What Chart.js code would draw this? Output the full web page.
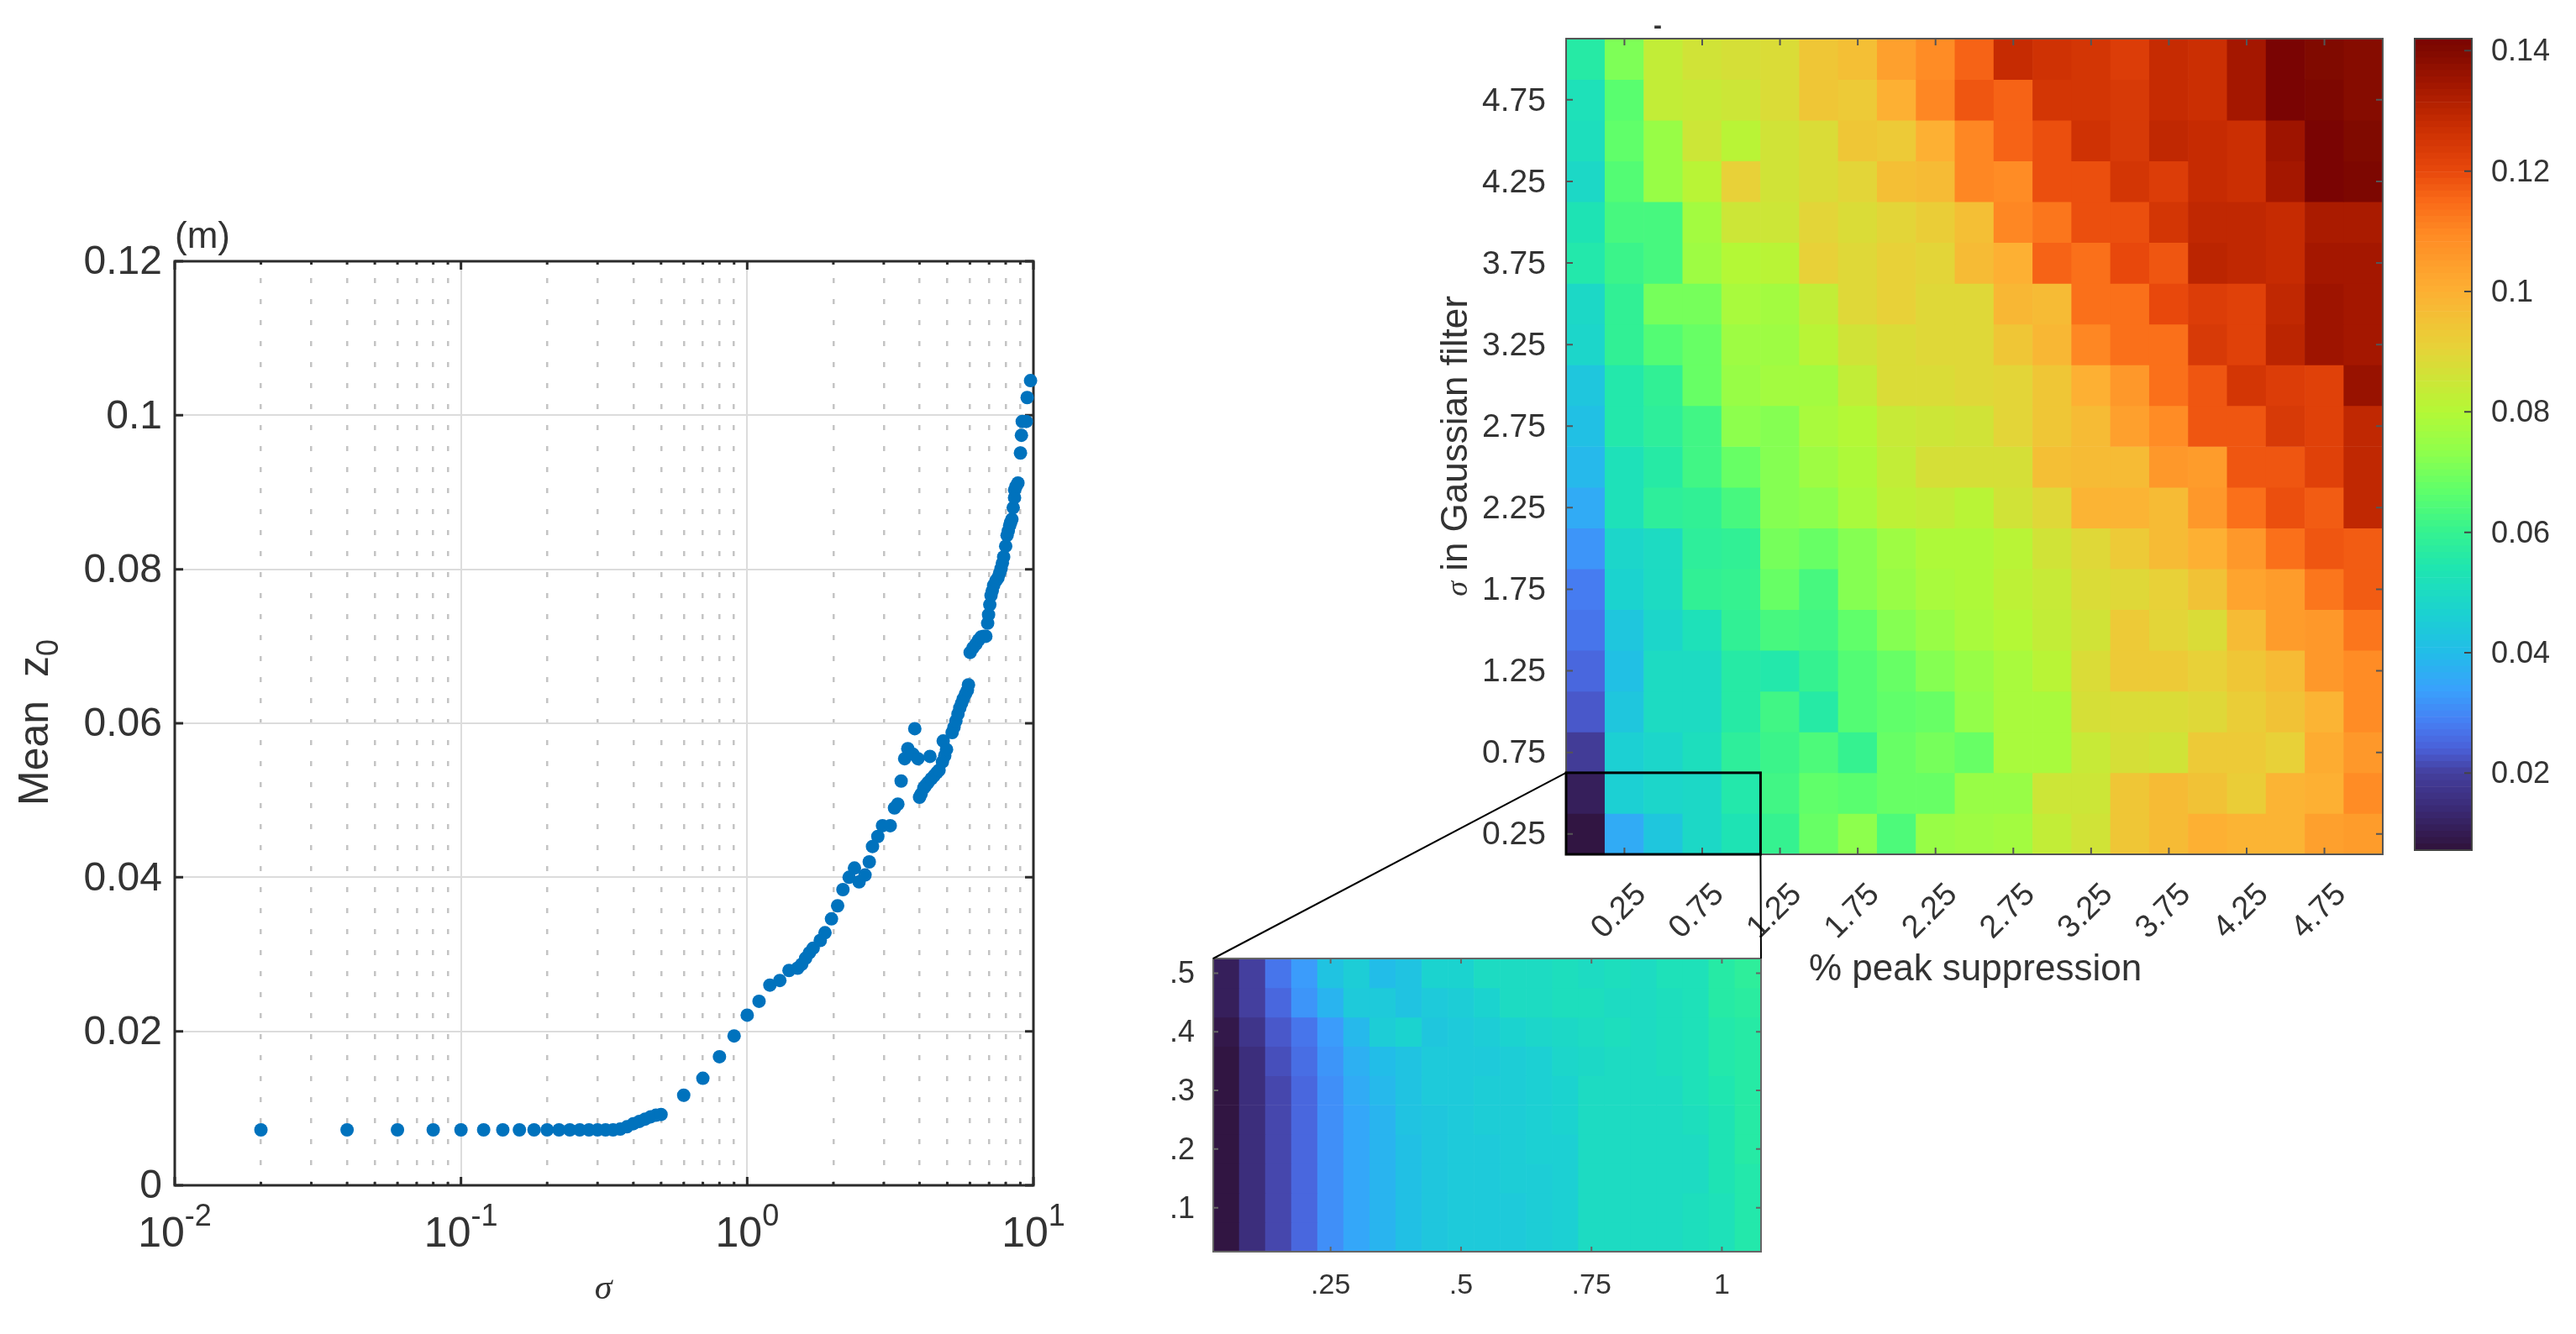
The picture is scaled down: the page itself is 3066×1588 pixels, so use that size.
<!DOCTYPE html>
<html>
<head>
<meta charset="utf-8">
<script src="https://cdn.jsdelivr.net/npm/chart.js@4"></script>
<style>
  html, body { margin: 0; background: #fff; }
  canvas { position: absolute; }
</style>
</head>
<body>
<canvas id="chart-scatter"></canvas>
<canvas id="chart-heat"></canvas>
<canvas id="chart-bar"></canvas>
<canvas id="chart-inset"></canvas>
<script>
// left panel
const sigmaValues = [0.02,0.04,0.06,0.08,0.1,0.12,0.14,0.16,0.18,0.2,0.22,0.24,0.26,0.28,0.3,0.32,0.34,0.36,0.38,0.4,0.42,0.44,0.46,0.48,0.5,
  0.6,0.7,0.8,0.9,1,1.1,1.2,1.3,1.4,1.5,1.55,1.6,1.65,1.7,1.8,1.87,1.97,2.07,2.16,2.27,2.37,2.46,2.58,2.67,2.74,2.86,2.97,3.16,3.27,3.36,3.45,
  3.55,3.64,3.79,3.85,3.95,4,4.05,4.14,4.2,4.28,4.35,4.4,4.5,4.6,4.68,4.81,4.84,4.9,4.97,5.2,5.28,5.36,5.45,5.53,5.61,5.69,5.79,5.88,5.93,6.01,6.15,6.3,6.43,6.56,6.7,6.82,6.92,6.97,7.04,7.11,7.18,7.26,7.39,7.52,
  7.62,7.71,7.79,7.87,8,8.09,8.17,8.26,8.33,8.41,8.5,8.59,8.6,8.7,8.83,9.01,9.08,9.14,9.44,9.51,9.77]
const meanZ0 = [0.0072,0.0072,0.0072,0.0072,0.0072,0.0072,0.0072,0.0072,0.0072,0.0072,0.0072,0.0072,0.0072,0.0072,0.0072,0.0072,0.0072,0.0073,0.0076,0.008,0.0083,0.0086,0.0089,0.0091,0.0092,
  0.0117,0.0139,0.0167,0.0194,0.0221,0.0239,0.026,0.0266,0.0279,0.0282,0.0287,0.0295,0.0302,0.0308,0.0318,0.0328,0.0346,0.0363,0.0384,0.04,0.0412,0.0394,0.0403,0.042,0.044,0.0453,0.0467,0.0467,0.049,0.0495,0.0525,
  0.0554,0.0567,0.056,0.0593,0.0554,0.0504,0.0508,0.0516,0.0519,0.0523,0.0557,0.0528,0.0532,0.0536,0.0539,0.055,0.0577,0.0558,0.0566,0.0588,0.0595,0.0603,0.0612,0.062,0.0626,0.0632,0.0638,0.0643,0.065,0.0692,0.0698,0.0703,0.0708,0.0712,0.0713,0.0713,0.073,0.0741,0.0754,0.0766,0.0772,0.0779,0.0785,0.0789,
  0.0795,0.0801,0.0808,0.0816,0.083,0.0844,0.085,0.0857,0.0861,0.0865,0.088,0.0893,0.0903,0.0908,0.0912,0.0951,0.0974,0.0992,0.0992,0.1023,0.1045]
const zTicks = [0,0.02,0.04,0.06,0.08,0.1,0.12]
const sigmaDecades = [0.01,0.1,1,10]
const sigmaMinor = [2,3,4,5,6,7,8,9]

// main heatmap, columns are % peak suppression, rows go from sigma 5 down to 0.25
const peakLevels = ['0','0.25','0.5','0.75','1','1.25','1.5','1.75','2','2.25','2.5','2.75','3','3.25','3.5','3.75','4','4.25','4.5','4.75','5']
const sigmaLevels = [5,4.75,4.5,4.25,4,3.75,3.5,3.25,3,2.75,2.5,2.25,2,1.75,1.5,1.25,1,0.75,0.5,0.25]
const heatValues = [
  [.056,.071,.083,.086,.087,.088,.094,.096,.104,.109,.116,.128,.126,.125,.123,.128,.127,.134,.142,.140,.139],
  [.052,.066,.083,.084,.085,.088,.094,.093,.100,.110,.118,.116,.125,.125,.124,.128,.127,.134,.142,.141,.139],
  [.051,.067,.075,.085,.081,.086,.088,.094,.093,.100,.110,.116,.119,.126,.124,.129,.128,.127,.135,.142,.140],
  [.049,.065,.075,.081,.091,.086,.088,.090,.096,.097,.110,.109,.119,.119,.125,.123,.128,.127,.134,.142,.141],
  [.053,.063,.063,.077,.085,.085,.090,.088,.090,.092,.096,.110,.113,.119,.119,.125,.129,.129,.128,.133,.133],
  [.055,.061,.063,.076,.080,.081,.091,.089,.091,.090,.097,.100,.116,.114,.120,.118,.130,.129,.128,.134,.134],
  [.049,.059,.070,.070,.078,.077,.083,.089,.091,.089,.089,.098,.097,.114,.114,.120,.123,.122,.129,.135,.134],
  [.048,.059,.065,.068,.076,.076,.081,.086,.088,.089,.089,.094,.098,.110,.114,.114,.124,.122,.130,.135,.134],
  [.043,.055,.059,.068,.075,.077,.077,.083,.088,.088,.089,.090,.094,.100,.106,.114,.118,.125,.123,.122,.136],
  [.041,.055,.058,.062,.073,.072,.078,.080,.084,.085,.086,.090,.094,.097,.104,.109,.118,.118,.124,.122,.129],
  [.039,.052,.056,.062,.068,.072,.076,.079,.083,.087,.087,.087,.096,.097,.097,.106,.105,.118,.118,.122,.129],
  [.036,.052,.058,.059,.063,.072,.073,.078,.082,.083,.081,.086,.089,.099,.099,.097,.106,.114,.119,.117,.129],
  [.032,.048,.050,.058,.059,.070,.068,.072,.076,.079,.079,.081,.086,.089,.093,.097,.100,.106,.114,.118,.117],
  [.028,.047,.050,.059,.060,.068,.063,.072,.075,.078,.079,.082,.084,.088,.089,.091,.095,.103,.105,.113,.117],
  [.027,.043,.048,.052,.059,.063,.062,.067,.072,.075,.078,.080,.083,.086,.093,.090,.088,.097,.105,.106,.113],
  [.025,.041,.050,.050,.056,.055,.060,.065,.068,.072,.075,.078,.081,.088,.093,.093,.091,.094,.097,.106,.109],
  [.023,.043,.050,.050,.056,.062,.056,.065,.067,.068,.074,.078,.078,.087,.088,.088,.089,.092,.095,.099,.109],
  [.019,.046,.048,.051,.058,.061,.064,.060,.068,.070,.068,.078,.078,.084,.087,.086,.093,.093,.091,.101,.106],
  [.011,.046,.048,.049,.055,.062,.067,.066,.068,.068,.075,.075,.085,.085,.094,.097,.095,.092,.099,.100,.109],
  [.008,.036,.043,.049,.053,.060,.068,.073,.064,.075,.076,.077,.083,.086,.094,.097,.100,.099,.099,.104,.105]
]

// inset heatmap
const insetPeak = ['.05','.1','.15','.2','.25','.3','.35','.4','.45','.5','.55','.6','.65','.7','.75','.8','.85','.9','.95','1','1.05']
const insetSigma = [0.5,0.45,0.4,0.35,0.3,0.25,0.2,0.15,0.1,0.05]
const insetValues = [
  [.011,.020,.027,.033,.042,.045,.040,.042,.047,.047,.050,.050,.050,.051,.050,.051,.050,.052,.052,.056,.058],
  [.011,.020,.025,.032,.038,.044,.044,.042,.044,.045,.047,.050,.050,.051,.051,.050,.050,.051,.052,.056,.057],
  [.009,.017,.023,.027,.033,.039,.045,.047,.043,.044,.045,.047,.048,.049,.050,.051,.050,.051,.052,.055,.056],
  [.008,.015,.022,.026,.032,.037,.040,.042,.044,.044,.044,.045,.046,.048,.049,.050,.050,.051,.052,.055,.056],
  [.008,.015,.021,.025,.031,.036,.039,.042,.044,.044,.045,.045,.046,.047,.050,.050,.050,.050,.052,.054,.056],
  [.008,.015,.021,.025,.031,.035,.038,.042,.043,.044,.045,.045,.046,.047,.050,.050,.050,.050,.051,.053,.056],
  [.008,.015,.021,.025,.031,.035,.038,.041,.043,.044,.044,.045,.046,.046,.050,.050,.050,.050,.050,.053,.056],
  [.008,.015,.021,.025,.031,.035,.038,.041,.043,.044,.044,.045,.045,.046,.050,.050,.050,.050,.050,.053,.055],
  [.008,.015,.021,.025,.031,.035,.038,.041,.043,.044,.044,.044,.045,.046,.050,.050,.050,.050,.051,.052,.055],
  [.008,.015,.021,.025,.031,.035,.038,.041,.043,.044,.044,.044,.045,.046,.050,.050,.050,.050,.051,.052,.055]
]

// colour bar
const barRange = [0.0072,0.142]
const barSteps = 128
const barTicks = [0.02,0.04,0.06,0.08,0.1,0.12,0.14]
const stopValues = [0.0072,0.014,0.02,0.024,0.0285,0.034,0.04,0.0467,0.054,0.06,0.0665,0.073,0.08,0.091,0.1,0.1095,0.115,0.12,0.1275,0.1347,0.14,0.142]
const stopColors = ['#30123b','#3a2a75','#443f9e','#4a60d8','#467ff4','#38a2fc','#22bde8','#1bd2d0','#1fe6b0','#35f290','#5cff6c','#8dff4d','#b4f836','#e8d138','#fdb033','#ff8a24','#f96a18','#e8480c','#c92d02','#a01500','#800a00','#7a0403']

const SANS = '"Liberation Sans", Arial, sans-serif'
const SERIF = '"Liberation Serif", serif'
const INK = '#333'
const AXIS_W = 120
const AXIS_H = 90

// each canvas only covers its own panel, page pixels are turned into canvas pixels with these
const scatterBox = { left: 0, top: 0, width: 1300, height: 1588 }
const heatBox = { left: 1660, top: 0, width: 1200, height: 1240 }
const barBox = { left: 2860, top: 0, width: 206, height: 1060 }
const insetBox = { left: 1300, top: 880, width: 880, height: 708 }

function place(id, box) {
  const c = document.getElementById(id)
  c.width = box.width
  c.height = box.height
  c.style.left = box.left + 'px'
  c.style.top = box.top + 'px'
  return c
}

function padFor(box, plot, axisW, axisH) {
  return {
    left: plot.left - box.left - axisW,
    top: plot.top - box.top,
    right: box.left + box.width - plot.right,
    bottom: box.top + box.height - plot.bottom - axisH
  }
}

function hexRgb(h) {
  return [1, 3, 5].map(i => parseInt(h.slice(i, i + 2), 16))
}

function colorFor(v) {
  let i = 0
  while (i < stopValues.length - 2 && v > stopValues[i + 1]) i++
  const t = Math.min(1, Math.max(0, (v - stopValues[i]) / (stopValues[i + 1] - stopValues[i])))
  const a = hexRgb(stopColors[i])
  const b = hexRgb(stopColors[i + 1])
  return `rgb(${a.map((c, k) => Math.round(c + (b[k] - c) * t)).join(',')})`
}

// chart area is set by the padding, axis boxes only need room for their labels
function lockAxis(scale) {
  scale.paddingLeft = scale.paddingRight = scale.paddingTop = scale.paddingBottom = 0
  if (scale.isHorizontal()) scale.height = scale.options.boxSize || AXIS_H
  else scale.width = scale.options.boxSize || AXIS_W
}

function drawRuns(ctx, t) {
  ctx.save()
  ctx.translate(t.x, t.y)
  ctx.rotate((t.rot || 0) * Math.PI / 180)
  ctx.fillStyle = INK
  ctx.textBaseline = 'alphabetic'
  ctx.textAlign = 'left'
  let total = 0
  t.runs.forEach(r => { ctx.font = r.font; total += ctx.measureText(r.text).width })
  let x = t.left ? 0 : -total / 2
  t.runs.forEach(r => {
    ctx.font = r.font
    ctx.fillText(r.text, x, r.dy || 0)
    x += ctx.measureText(r.text).width
  })
  ctx.restore()
}

function textPlugin(list, box) {
  return {
    id: 'pageText',
    afterDraw(chart) {
      list.forEach(t => drawRuns(chart.ctx, { ...t, x: t.x - box.left, y: t.y - box.top }))
    }
  }
}

function drawFrame(chart) {
  const o = chart.options.plugins.frame
  const { ctx, chartArea: a, scales } = chart
  ctx.save()
  ctx.strokeStyle = o.color
  ctx.lineWidth = o.width
  ctx.strokeRect(a.left, a.top, a.right - a.left, a.bottom - a.top)
  ctx.lineWidth = o.tickWidth
  ctx.beginPath()
  scales.x.ticks.forEach(t => {
    if (o.noX) return
    const px = scales.x.getPixelForValue(t.value)
    const len = t.minor ? o.minorLen : o.len
    ctx.moveTo(px, a.bottom); ctx.lineTo(px, a.bottom - len)
    ctx.moveTo(px, a.top); ctx.lineTo(px, a.top + len)
  })
  scales.y.ticks.forEach(t => {
    const py = scales.y.getPixelForValue(t.value)
    ctx.moveTo(a.right, py); ctx.lineTo(a.right - o.len, py)
    if (!o.rightOnly) { ctx.moveTo(a.left, py); ctx.lineTo(a.left + o.len, py) }
  })
  ctx.stroke()
  ctx.restore()
}

const framePlugin = {
  id: 'frame',
  beforeDatasetsDraw(chart) { if (!chart.options.plugins.frame.onTop) drawFrame(chart) },
  afterDatasetsDraw(chart) { if (chart.options.plugins.frame.onTop) drawFrame(chart) }
}

function basePlugins(frame) {
  return { legend: { display: false }, tooltip: { enabled: false }, frame }
}

function renderScatter() {
  const gridTicks = []
  sigmaDecades.forEach((d, i) => {
    gridTicks.push({ value: d, major: true })
    if (i < sigmaDecades.length - 1) sigmaMinor.forEach(m => gridTicks.push({ value: d * m, minor: true }))
  })
  const decadeLabel = {
    id: 'decadeLabel',
    afterDraw(chart) {
      const x = chart.scales.x
      ;[[0.01, '-2'], [0.1, '-1'], [1, '0'], [10, '1']].forEach(([v, e]) => {
        drawRuns(chart.ctx, {
          x: x.getPixelForValue(v), y: 1484,
          runs: [{ text: '10', font: `50px ${SANS}` }, { text: e, font: `36px ${SANS}`, dy: -25 }]
        })
      })
    }
  }
  new Chart(place('chart-scatter', scatterBox), {
    type: 'scatter',
    data: {
      datasets: [{
        data: sigmaValues.map((s, i) => ({ x: s, y: meanZ0[i] })),
        backgroundColor: '#0072bd',
        borderWidth: 0,
        pointRadius: 8,
        clip: false
      }]
    },
    options: {
      responsive: false,
      animation: false,
      layout: { padding: padFor(scatterBox, { left: 208, top: 311, right: 1230, bottom: 1411 }, AXIS_W, AXIS_H) },
      plugins: basePlugins({ color: '#2b2b2b', width: 3, tickWidth: 3, len: 10, minorLen: 4 }),
      scales: {
        x: {
          type: 'logarithmic',
          min: 0.01,
          max: 10,
          afterBuildTicks: s => { s.ticks = gridTicks.map(t => ({ ...t })) },
          afterFit: lockAxis,
          ticks: { display: false },
          border: {
            display: false,
            dash: c => (c.tick && c.tick.major ? [] : [6, 19]),
            dashOffset: c => (c.tick && c.tick.major ? 0 : 5)
          },
          grid: {
            drawTicks: false,
            color: c => (c.tick && c.tick.major ? '#dcdcdc' : '#c4c4c4'),
            lineWidth: c => (c.tick && c.tick.major ? 2 : 2.5)
          }
        },
        y: {
          min: 0,
          max: 0.12,
          afterBuildTicks: s => { s.ticks = zTicks.map(v => ({ value: v })) },
          afterFit: lockAxis,
          ticks: { color: INK, font: { family: SANS, size: 48 }, padding: 15, labelOffset: 2, callback: v => String(v) },
          border: { display: false },
          grid: { drawTicks: false, color: '#dcdcdc', lineWidth: 2 }
        }
      }
    },
    plugins: [framePlugin, decadeLabel, textPlugin([
      { x: 208, y: 295, left: true, runs: [{ text: '(m)', font: `44px ${SANS}` }] },
      { x: 57, y: 860, rot: -90, runs: [{ text: 'Mean  z', font: `50px ${SANS}` }, { text: '0', font: `36px ${SANS}`, dy: 12 }] },
      { x: 718, y: 1546, runs: [{ text: 'σ', font: `italic 42px ${SERIF}` }] }
    ], scatterBox)]
  })
}

function cellDatasets(rows, levels, half) {
  return rows.map((row, r) => ({
    grouped: false,
    barPercentage: 1,
    categoryPercentage: 1,
    borderWidth: 0,
    data: row.map(() => [levels[r] - half, levels[r] + half]),
    backgroundColor: row.map(colorFor)
  }))
}

function renderHeat() {
  return new Chart(place('chart-heat', heatBox), {
    type: 'bar',
    data: { labels: peakLevels, datasets: cellDatasets(heatValues, sigmaLevels, 0.125) },
    options: {
      responsive: false,
      animation: false,
      layout: { padding: padFor(heatBox, { left: 1864, top: 46, right: 2836, bottom: 1017 }, AXIS_W, 130) },
      plugins: basePlugins({ color: '#555', width: 2, tickWidth: 2, len: 8, minorLen: 8, onTop: true }),
      scales: {
        x: {
          boxSize: 130,
          afterBuildTicks: s => { s.ticks = s.ticks.filter(t => t.value % 2 === 1) },
          afterFit: lockAxis,
          ticks: { color: INK, font: { family: SANS, size: 38 }, autoSkip: false, minRotation: 45, maxRotation: 45, padding: 18, labelOffset: 20 },
          border: { display: false },
          grid: { display: false }
        },
        y: {
          min: 0.125,
          max: 5.125,
          afterBuildTicks: s => { s.ticks = sigmaLevels.filter((v, i) => i % 2 === 1).map(v => ({ value: v })) },
          afterFit: lockAxis,
          ticks: { color: INK, font: { family: SANS, size: 39 }, padding: 16, labelOffset: 2, callback: v => String(v) },
          border: { display: false },
          grid: { display: false }
        }
      }
    },
    plugins: [framePlugin, textPlugin([
      { x: 1746, y: 531, rot: -90, runs: [{ text: 'σ', font: `italic 36px ${SERIF}` }, { text: ' in Gaussian filter', font: `44px ${SANS}` }] },
      { x: 2351, y: 1167, runs: [{ text: '% peak suppression', font: `44px ${SANS}` }] },
      { x: 1973, y: 40, runs: [{ text: '-', font: `bold 30px ${SANS}` }] }
    ], heatBox)]
  })
}

function renderBar() {
  // the key is one column of thin bands, like the stepped colormap
  const band = (barRange[1] - barRange[0]) / barSteps
  const bands = Array.from({ length: barSteps }, (_, i) => barRange[0] + band * i)
  new Chart(place('chart-bar', barBox), {
    type: 'bar',
    data: {
      labels: ['z0'],
      datasets: bands.map(v => ({
        grouped: false,
        barPercentage: 1,
        categoryPercentage: 1,
        borderWidth: 0,
        data: [[v, v + band]],
        backgroundColor: colorFor(v + band / 2)
      }))
    },
    options: {
      responsive: false,
      animation: false,
      layout: {
        padding: {
          left: 2874 - barBox.left,
          top: 46,
          right: barBox.left + barBox.width - 2942 - AXIS_W,
          bottom: barBox.height - 1012 - 10
        }
      },
      plugins: basePlugins({ color: '#444', width: 2, tickWidth: 2, len: 9, minorLen: 9, onTop: true, noX: true, rightOnly: true }),
      scales: {
        x: {
          boxSize: 10,
          afterFit: lockAxis,
          ticks: { display: false },
          border: { display: false },
          grid: { display: false }
        },
        y: {
          position: 'right',
          min: barRange[0],
          max: barRange[1],
          afterBuildTicks: s => { s.ticks = barTicks.map(v => ({ value: v })) },
          afterFit: lockAxis,
          ticks: { color: INK, font: { family: SANS, size: 36 }, padding: 15, labelOffset: 2, callback: v => String(v) },
          border: { display: false },
          grid: { display: false }
        }
      }
    },
    plugins: [framePlugin]
  })
}

function renderInset(heatChart) {
  const labelled = { '.25': 1, '.5': 1, '.75': 1, '1': 1 }
  const zoomLines = {
    id: 'zoomLines',
    afterDraw(chart) {
      const { ctx, chartArea: a } = chart
      const dx = heatBox.left - insetBox.left
      const dy = heatBox.top - insetBox.top
      const left = heatChart.chartArea.left + dx
      const right = heatChart.scales.x.getPixelForValue(4.5) + dx
      const top = heatChart.scales.y.getPixelForValue(0.625) + dy
      const bottom = heatChart.chartArea.bottom + dy
      ctx.save()
      ctx.strokeStyle = '#000'
      ctx.lineWidth = 3
      ctx.strokeRect(left, top, right - left, bottom - top)
      ctx.lineWidth = 2
      ctx.beginPath()
      ctx.moveTo(left, top); ctx.lineTo(a.left, a.top)
      ctx.moveTo(right, bottom); ctx.lineTo(a.right, a.top)
      ctx.stroke()
      ctx.restore()
    }
  }
  new Chart(place('chart-inset', insetBox), {
    type: 'bar',
    data: { labels: insetPeak, datasets: cellDatasets(insetValues, insetSigma, 0.025) },
    options: {
      responsive: false,
      animation: false,
      layout: { padding: padFor(insetBox, { left: 1444, top: 1141, right: 2096, bottom: 1490 }, AXIS_W, AXIS_H) },
      plugins: basePlugins({ color: '#666', width: 2, tickWidth: 2, len: 6, minorLen: 6, onTop: true }),
      scales: {
        x: {
          afterBuildTicks: s => { s.ticks = s.ticks.filter(t => labelled[insetPeak[t.value]]) },
          afterFit: lockAxis,
          ticks: { color: INK, font: { family: SANS, size: 34 }, autoSkip: false, maxRotation: 0, padding: 12 },
          border: { display: false },
          grid: { display: false }
        },
        y: {
          min: 0.025,
          max: 0.525,
          afterBuildTicks: s => { s.ticks = insetSigma.filter((v, i) => i % 2 === 0).map(v => ({ value: v })) },
          afterFit: lockAxis,
          ticks: { color: INK, font: { family: SANS, size: 36 }, padding: 14, labelOffset: 2, callback: v => String(v).replace(/^0/, '') },
          border: { display: false },
          grid: { display: false }
        }
      }
    },
    plugins: [framePlugin, zoomLines]
  })
}

renderScatter()
const heatChart = renderHeat()
renderBar()
renderInset(heatChart)
</script>
</body>
</html>
